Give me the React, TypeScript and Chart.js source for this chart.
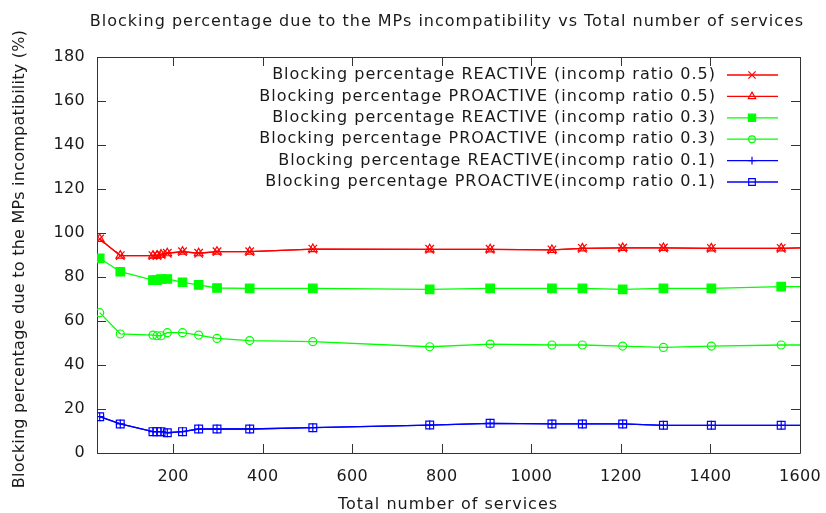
import React, { useEffect, useRef } from "react";
import { Chart, registerables } from "chart.js";
import { drawPoint } from "chart.js/helpers";

Chart.register(...registerables);

// ---- data ----
const totalServices = [36, 82, 155, 164, 173, 187, 221, 257, 298, 371, 512, 773, 908, 1046, 1114, 1204, 1295, 1402, 1558, 1700];
const reactive05 = [97.3, 89.7, 89.7, 89.7, 90.2, 90.8, 91.5, 90.8, 91.5, 91.5, 92.7, 92.6, 92.6, 92.3, 93.0, 93.2, 93.2, 93.0, 93.0, 93.8];
const proactive05 = [97.3, 89.7, 89.7, 89.7, 90.2, 90.8, 91.5, 90.8, 91.5, 91.5, 92.7, 92.6, 92.6, 92.3, 93.0, 93.2, 93.2, 93.0, 93.0, 93.8];
const reactive03 = [88.5, 82.4, 78.6, 78.6, 79.1, 79.1, 77.6, 76.4, 75.0, 74.8, 74.8, 74.4, 74.8, 74.8, 74.8, 74.4, 74.8, 74.8, 75.6, 75.7];
const proactive03 = [63.8, 54.1, 53.6, 53.3, 53.3, 54.7, 54.7, 53.6, 52.1, 51.1, 50.6, 48.3, 49.5, 49.1, 49.1, 48.6, 48.0, 48.6, 49.1, 49.1];
const reactive01 = [16.5, 13.2, 9.7, 9.7, 9.7, 9.2, 9.7, 10.9, 10.9, 10.9, 11.5, 12.7, 13.5, 13.2, 13.2, 13.2, 12.6, 12.6, 12.6, 12.6];
const proactive01 = [16.5, 13.2, 9.7, 9.7, 9.7, 9.2, 9.7, 10.9, 10.9, 10.9, 11.5, 12.7, 13.5, 13.2, 13.2, 13.2, 12.6, 12.6, 12.6, 12.6];

const seriesLabels = [
  "Blocking percentage REACTIVE (incomp ratio 0.5)",
  "Blocking percentage PROACTIVE (incomp ratio 0.5)",
  "Blocking percentage REACTIVE (incomp ratio 0.3)",
  "Blocking percentage PROACTIVE (incomp ratio 0.3)",
  "Blocking percentage REACTIVE(incomp ratio 0.1)",
  "Blocking percentage PROACTIVE(incomp ratio 0.1)",
];
const xTickValues = [200, 400, 600, 800, 1000, 1200, 1400, 1600];
const yTickValues = [0, 20, 40, 60, 80, 100, 120, 140, 160, 180];

const chartTitle = "Blocking percentage due to the MPs incompatibility vs Total number of services";
const xAxisTitle = "Total number of services";
const yAxisTitle = "Blocking percentage due to the MPs incompatibility (%)";

const FONT = "'DejaVu Sans', sans-serif";
const TEXT = "#1a1a1a";

const RED = "#ff0000";
const GREEN = "#00ff00";
const BLUE = "#0000ff";

function mk(label: string, ys: number[], color: string, style: string, radius: number, filled: boolean) {
  return {
    label,
    data: totalServices.map((x, i) => ({ x, y: ys[i] })),
    borderColor: color,
    backgroundColor: filled ? color : "rgba(0,0,0,0)",
    borderWidth: 1.3,
    pointStyle: style,
    pointRadius: radius,
    pointBorderWidth: 1.2,
    pointBorderColor: color,
    pointBackgroundColor: filled ? color : "rgba(0,0,0,0)",
    tension: 0,
    fill: false,
  };
}

const framePlugin = {
  id: "gnuplotFrame",
  beforeDraw(chart: any) {
    (chart.ctx as any).letterSpacing = "0.3px";
  },
  beforeDatasetsDraw(chart: any) {
    const { ctx, chartArea } = chart;
    const { left, right, top, bottom } = chartArea;
    const xs = chart.scales.x;
    const ys = chart.scales.y;
    const tl = 9;
    ctx.save();
    ctx.strokeStyle = "#333333";
    ctx.lineWidth = 1;
    ctx.beginPath();
    ctx.rect(Math.round(left) + 0.5, Math.round(top) + 0.5, Math.round(right - left), Math.round(bottom - top));
    for (const v of xTickValues) {
      const px = Math.round(xs.getPixelForValue(v)) + 0.5;
      ctx.moveTo(px, bottom);
      ctx.lineTo(px, bottom - tl);
      ctx.moveTo(px, top);
      ctx.lineTo(px, top + tl);
    }
    for (const v of yTickValues) {
      const py = Math.round(ys.getPixelForValue(v)) + 0.5;
      ctx.moveTo(left, py);
      ctx.lineTo(left + tl, py);
      ctx.moveTo(right, py);
      ctx.lineTo(right - tl, py);
    }
    ctx.stroke();
    ctx.restore();
  },
  afterDraw(chart: any) {
    const ctx = chart.ctx as any;
    ctx.save();
    ctx.fillStyle = TEXT;
    ctx.font = `16px ${FONT}`;
    ctx.letterSpacing = "1px";
    ctx.textAlign = "center";
    ctx.textBaseline = "middle";
    ctx.fillText(chartTitle, 447, 22);
    ctx.fillText(xAxisTitle, 448, 505);
    ctx.letterSpacing = "0.25px";
    ctx.translate(20, 259);
    ctx.rotate(-Math.PI / 2);
    ctx.fillText(yAxisTitle, 0, 0);
    ctx.restore();

    // legend (gnuplot style key, top right inside)
    ctx.save();
    ctx.font = `16px ${FONT}`;
    ctx.letterSpacing = "1px";
    ctx.textAlign = "right";
    ctx.textBaseline = "middle";
    chart.data.datasets.forEach((ds: any, i: number) => {
      const y = 75 + i * 21.4;
      ctx.fillStyle = TEXT;
      ctx.fillText(ds.label, 716, y);
      ctx.strokeStyle = ds.borderColor;
      ctx.lineWidth = 1.3;
      ctx.beginPath();
      ctx.moveTo(727, y);
      ctx.lineTo(778, y);
      ctx.stroke();
      ctx.fillStyle = ds.pointBackgroundColor;
      ctx.strokeStyle = ds.pointBorderColor;
      ctx.lineWidth = 1.2;
      drawPoint(ctx, { pointStyle: ds.pointStyle, radius: ds.pointRadius * 0.85, rotation: 0, borderWidth: 1.2 }, 752, y);
    });
    ctx.restore();
  },
};

export default function App() {
  const ref = useRef<HTMLCanvasElement | null>(null);
  useEffect(() => {
    if (!ref.current) return;
    const chart = new Chart(ref.current, {
      type: "line",
      data: {
        datasets: [
          mk(seriesLabels[0], reactive05, RED, "crossRot", 6, false),
          mk(seriesLabels[1], proactive05, RED, "triangle", 5, false),
          mk(seriesLabels[2], reactive03, GREEN, "rect", 6, true),
          mk(seriesLabels[3], proactive03, GREEN, "circle", 4, false),
          mk(seriesLabels[4], reactive01, BLUE, "cross", 4.5, false),
          mk(seriesLabels[5], proactive01, BLUE, "rect", 5.5, false),
        ] as any,
      },
      options: {
        animation: false,
        responsive: false,
        maintainAspectRatio: false,
        layout: { padding: { top: 57, right: 26, left: 0, bottom: 0 } },
        plugins: {
          legend: { display: false },
          title: { display: false },
          tooltip: { enabled: false },
        },
        scales: {
          x: {
            type: "linear",
            min: 30,
            max: 1600,
            grid: { display: false, drawTicks: false },
            border: { display: false },
            afterBuildTicks: (s: any) => {
              s.ticks = xTickValues.map((v) => ({ value: v }));
            },
            afterFit: (s: any) => {
              s.height = 60;
              s.paddingLeft = 0;
              s.paddingRight = 0;
            },
            ticks: {
              font: { size: 16, family: FONT },
              color: TEXT,
              padding: 14,
              maxRotation: 0,
              autoSkip: false,
              callback: (v: any) => String(v),
            },
          },
          y: {
            type: "linear",
            min: 0,
            max: 180,
            grid: { display: false, drawTicks: false },
            border: { display: false },
            afterBuildTicks: (s: any) => {
              s.ticks = yTickValues.map((v) => ({ value: v }));
            },
            afterFit: (s: any) => {
              s.width = 97;
              s.paddingTop = 0;
              s.paddingBottom = 0;
            },
            ticks: {
              font: { size: 16, family: FONT },
              color: TEXT,
              padding: 12,
              autoSkip: false,
              callback: (v: any) => String(v),
            },
          },
        },
      },
      plugins: [framePlugin],
    });
    return () => chart.destroy();
  }, []);
  return (
    <div style={{ position: "absolute", left: 0, top: 0, width: 826, height: 513, background: "#fff" }}>
      <canvas ref={ref} width={826} height={513} style={{ display: "block", width: 826, height: 513 }} />
    </div>
  );
}
